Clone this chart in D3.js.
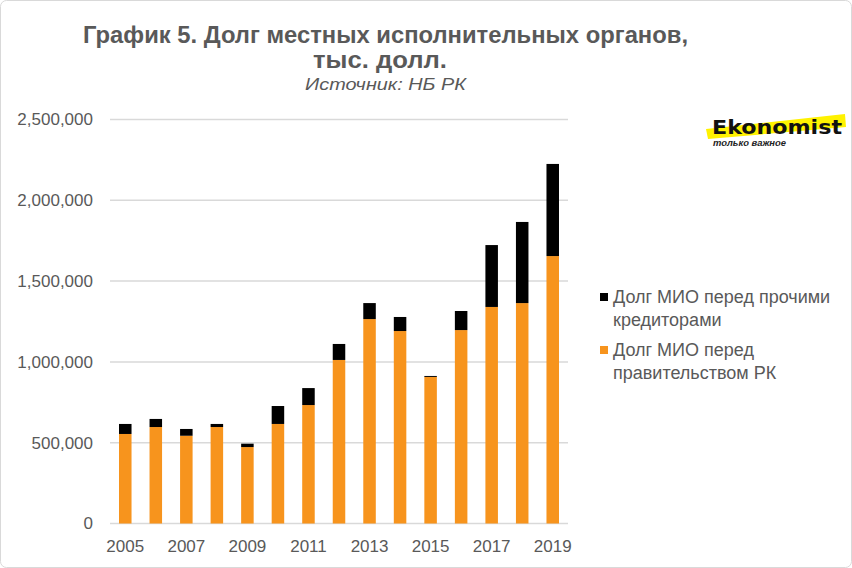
<!DOCTYPE html>
<html><head><meta charset="utf-8">
<script src="https://cdn.jsdelivr.net/npm/d3@7"></script>
<style>body{margin:0;background:#fff}svg{display:block}</style>
</head><body>
<script>
const years = ["2005","2006","2007","2008","2009","2010","2011","2012","2013","2014","2015","2016","2017","2018","2019"];
const govDebt   = [554000,597000,543000,597000,473000,616000,733000,1012000,1265000,1191000,907000,1197000,1340000,1364000,1655000];
const otherDebt = [62000,50000,42000,19000,21000,111000,105000,99000,99000,87000,6000,118000,383000,502000,570000];
const yTicks = [0,500000,1000000,1500000,2000000,2500000];
const xTickLabels = ["2005","2007","2009","2011","2013","2015","2017","2019"];
const seriesNames = ["Долг МИО перед прочими кредиторами","Долг МИО перед правительством РК"];
const seriesColors = ["#000000","#F7941D"];

const W=852,H=568;
const svg=d3.select("body").append("svg").attr("width",W).attr("height",H);
svg.append("rect").attr("x",0.5).attr("y",0.5).attr("width",W-1).attr("height",H-1)
  .attr("rx",6).attr("fill","#fff").attr("stroke","#d9d9d9");

const x=d3.scaleBand().domain(years).range([110,568]).paddingInner(0.59).paddingOuter(0.295);
const y=d3.scaleLinear().domain([0,2500000]).range([523.5,119.5]);

// grid
svg.append("g").selectAll("line").data(yTicks).join("line")
  .attr("x1",110).attr("x2",568).attr("y1",d=>y(d)).attr("y2",d=>y(d))
  .attr("stroke","#d9d9d9").attr("stroke-width",1.5);

const font="'Liberation Sans', Arial, sans-serif";
const grey="#595959";

// y axis
const yAxis=d3.axisLeft(y).tickValues(yTicks).tickFormat(d3.format(",")).tickSize(0).tickPadding(0);
const gy=svg.append("g").attr("transform","translate(93,0)").call(yAxis);
gy.select(".domain").remove();
gy.selectAll("text").attr("font-family",font).attr("font-size",17).attr("fill",grey);

// x axis
const xAxis=d3.axisBottom(x).tickSize(0).tickPadding(0).tickFormat(d=>xTickLabels.includes(d)?d:"");
const gx=svg.append("g").attr("transform","translate(0,540)").call(xAxis);
gx.select(".domain").remove();
gx.selectAll("text").attr("font-family",font).attr("font-size",17).attr("fill",grey);

// bars
const data=years.map((yr,i)=>({year:yr,gov:govDebt[i],other:otherDebt[i]}));
const stack=d3.stack().keys(["gov","other"])(data);
const colorByKey={gov:seriesColors[1],other:seriesColors[0]};
svg.append("g").selectAll("g").data(stack).join("g").attr("fill",s=>colorByKey[s.key])
  .selectAll("rect").data(s=>s).join("rect")
  .attr("x",d=>x(d.data.year)).attr("width",x.bandwidth())
  .attr("y",d=>y(d[1])).attr("height",d=>y(d[0])-y(d[1]));

// title
const t=svg.append("g").attr("font-family",font).attr("text-anchor","middle");
t.append("text").attr("x",385.5).attr("y",43).attr("font-size",23).attr("font-weight","bold").attr("fill",grey)
  .attr("textLength",605).attr("lengthAdjust","spacingAndGlyphs")
  .text("График 5. Долг местных исполнительных органов,");
t.append("text").attr("x",380).attr("y",68).attr("font-size",23).attr("font-weight","bold").attr("fill",grey)
  .attr("textLength",134).attr("lengthAdjust","spacingAndGlyphs")
  .text("тыс. долл.");
t.append("text").attr("x",385.5).attr("y",90).attr("font-size",17).attr("font-style","italic").attr("fill",grey)
  .attr("textLength",161).attr("lengthAdjust","spacingAndGlyphs")
  .text("Источник: НБ РК");

// legend
const legend=[{name:["Долг МИО перед прочими","кредиторами"],color:seriesColors[0],y:297},
              {name:["Долг МИО перед","правительством РК"],color:seriesColors[1],y:350}];
const lg=svg.append("g").attr("font-family",font).attr("font-size",18).attr("fill",grey);
legend.forEach(l=>{
  lg.append("rect").attr("x",600).attr("y",l.y-4).attr("width",8).attr("height",8).attr("fill",l.color);
  l.name.forEach((ln,j)=>lg.append("text").attr("x",613).attr("y",l.y+6+j*23).text(ln));
});

// logo
const logo=svg.append("g");
logo.append("path").attr("d","M706,129 L845,114 L846,127 L708,139 Z").attr("fill","#FFF200");
logo.append("text").attr("x",712).attr("y",134).attr("font-family","'DejaVu Sans', sans-serif")
  .attr("font-weight","bold").attr("font-size",20).attr("fill","#111")
  .attr("textLength",130).attr("lengthAdjust","spacingAndGlyphs").text("Ekonomist");
logo.append("text").attr("x",713).attr("y",146).attr("font-family",font).attr("font-style","italic")
  .attr("font-weight","bold").attr("font-size",8.5).attr("fill","#222")
  .attr("textLength",73).attr("lengthAdjust","spacingAndGlyphs").text("только важное");
</script>
</body></html>
